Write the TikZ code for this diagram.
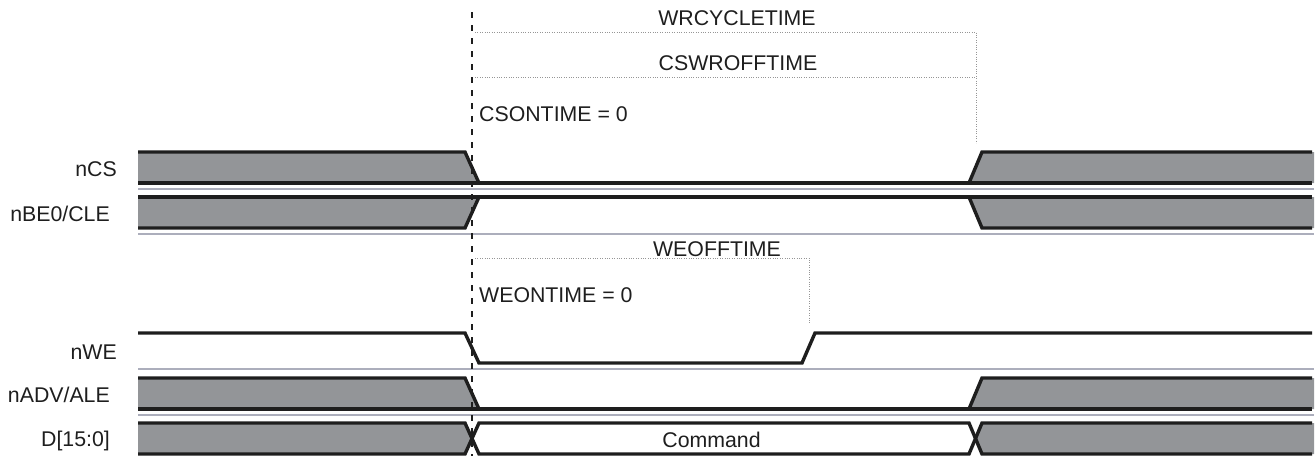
\documentclass[tikz,border=0pt]{standalone}
\usepackage{fontspec}
\setmainfont{Liberation Sans}
\definecolor{wavegray}{RGB}{147,149,152}
\definecolor{sepgray}{RGB}{172,174,188}
\definecolor{dotgray}{RGB}{150,150,150}
\definecolor{inkblack}{RGB}{30,30,30}
\begin{document}
\begin{tikzpicture}[x=1pt,y=-1pt,
  wave/.style={draw=inkblack,line width=3.4pt},
  graybox/.style={fill=wavegray},
  sepline/.style={draw=sepgray,line width=2.2pt},
  dotline/.style={draw=dotgray,line width=0.9pt,dash pattern=on 0.9pt off 1.5pt},
  markline/.style={draw=inkblack,line width=1.3pt,dash pattern=on 6pt off 7pt},
  lbl/.style={inner sep=0pt,font=\fontsize{21.3}{24}\selectfont,text=inkblack}]
\useasboundingbox (0,0) rectangle (1315,458);

% ---------- gray (undefined) regions ----------
% nCS
\fill[graybox] (138,152) -- (465,152) -- (479,183) -- (138,183) -- cycle;
\fill[graybox] (982,152) -- (1314,152) -- (1314,183) -- (969,183) -- cycle;
% nBE0/CLE
\fill[graybox] (138,197) -- (479,197) -- (465,228) -- (138,228) -- cycle;
\fill[graybox] (969,197) -- (1314,197) -- (1314,228) -- (982,228) -- cycle;
% nADV/ALE
\fill[graybox] (138,378) -- (465,378) -- (479,409) -- (138,409) -- cycle;
\fill[graybox] (982,378) -- (1314,378) -- (1314,409) -- (969,409) -- cycle;
% D[15:0]
\fill[graybox] (138,423) -- (465,423) -- (472,438.5) -- (465,454) -- (138,454) -- cycle;
\fill[graybox] (1314,423) -- (982,423) -- (975.5,438.5) -- (982,454) -- (1314,454) -- cycle;

% ---------- separators ----------
\draw[sepline] (138,189) -- (1314,189);
\draw[sepline] (138,234) -- (1314,234);
\draw[sepline] (138,369) -- (1314,369);
\draw[sepline] (138,415) -- (1314,415);

% ---------- reference marker ----------
\coordinate (mtop) at (472,12);
\coordinate (mbot) at (472,456);
\draw[markline] (mtop) -- (mbot);

% ---------- timing brackets ----------
\coordinate (wrA) at (475,32);
\coordinate (wrB) at (976,32);
\coordinate (wrC) at (976,143);
\coordinate (csA) at (475,77);
\coordinate (csB) at (976,77);
\coordinate (weA) at (475,258);
\coordinate (weB) at (809,258);
\coordinate (weC) at (809,323);
\draw[dotline] (wrA) -- (wrB) -- (wrC);
\draw[dotline] (csA) -- (csB);
\draw[dotline] (weA) -- (weB) -- (weC);

% ---------- waveforms ----------
% nCS
\draw[wave] (138,152) -- (465,152) -- (479,183);
\draw[wave] (138,183) -- (1312,183);
\draw[wave] (969,183) -- (982,152) -- (1312,152);
% nBE0/CLE
\draw[wave] (138,197) -- (1312,197);
\draw[wave] (138,228) -- (465,228) -- (479,197);
\draw[wave] (969,197) -- (982,228) -- (1312,228);
% nWE
\draw[wave] (138,333) -- (465,333) -- (479,363) -- (802,363) -- (815,333) -- (1312,333);
% nADV/ALE
\draw[wave] (138,378) -- (465,378) -- (479,409);
\draw[wave] (138,409) -- (1312,409);
\draw[wave] (969,409) -- (982,378) -- (1312,378);
% D[15:0]
\draw[wave] (138,423) -- (465,423) -- (479,454) -- (969,454) -- (982,423) -- (1312,423);
\draw[wave] (138,454) -- (465,454) -- (479,423) -- (969,423) -- (982,454) -- (1312,454);

% ---------- labels ----------
\node[lbl,anchor=base east] (lcs)  at (117,176.5) {nCS};
\node[lbl,anchor=base east] (lbe)  at (110,221.5) {nBE0/CLE};
\node[lbl,anchor=base east] (lwe)  at (117,359.5) {nWE};
\node[lbl,anchor=base east] (ladv) at (110,402.5) {nADV/ALE};
\node[lbl,anchor=base east] (ld)   at (110,446.5) {D[15:0]};

\node[lbl,anchor=base] (twr)  at (737,25.7) {WRCYCLETIME};
\node[lbl,anchor=base] (tcsoff) at (738,70.7) {CSWROFFTIME};
\node[lbl,anchor=base west] (tcson) at (479,121.5) {CSONTIME = 0};
\node[lbl,anchor=base] (tweoff) at (717,256.7) {WEOFFTIME};
\node[lbl,anchor=base west] (tweon) at (479,302.3) {WEONTIME = 0};
\node[lbl,anchor=base] (tcmd) at (711.5,447.7) {Command};
\end{tikzpicture}
\end{document}
